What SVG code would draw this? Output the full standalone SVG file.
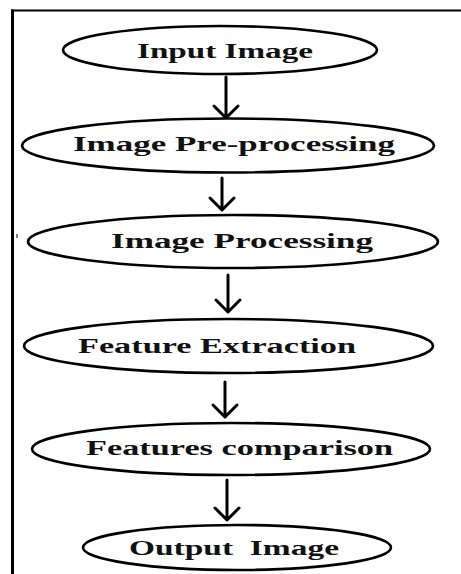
<svg xmlns="http://www.w3.org/2000/svg" width="461" height="574" viewBox="0 0 461 574">
  <style>
    .node ellipse { fill: #ffffff; stroke: #000000; stroke-width: 2.6; }
    .node text { font-family: "Liberation Serif", "Times New Roman", serif; font-weight: bold; font-size: 20px; fill: #111111; }
    .edge { fill: none; stroke: #000000; stroke-width: 3; stroke-linecap: round; stroke-linejoin: round; }
    .frame { stroke: #000000; fill: none; }
  </style>
  <rect width="461" height="574" fill="#ffffff"/>

  <!-- page frame -->
  <g id="frame">
    <line class="frame" x1="11" y1="10.5" x2="461" y2="10.5" stroke-width="2"/>
    <line class="frame" x1="12.5" y1="9.5" x2="12.5" y2="574" stroke-width="3"/>
    <line class="frame" x1="17" y1="234" x2="17" y2="238" stroke-width="1"/>
  </g>

  <!-- connectors -->
  <g id="connectors">
    <path class="edge" d="M226 77 V117 M214 106 L226 118 L238 106"/>
    <path class="edge" d="M222 178 V209 M210 198 L222 210 L234 198"/>
    <path class="edge" d="M228 275 V311 M216 300 L228 312 L240 300"/>
    <path class="edge" d="M225 382 V416 M213 405 L225 417 L237 405"/>
    <path class="edge" d="M227 480 V519 M215 508 L227 520 L239 508"/>
  </g>

  <g id="input-image" class="node">
    <ellipse cx="220" cy="50" rx="157" ry="24"/>
    <text x="137" y="58" textLength="176" lengthAdjust="spacingAndGlyphs">Input Image</text>
  </g>

  <g id="image-pre-processing" class="node">
    <ellipse cx="228" cy="145.5" rx="206" ry="27"/>
    <text x="73" y="151" textLength="322" lengthAdjust="spacingAndGlyphs">Image Pre-processing</text>
  </g>

  <g id="image-processing" class="node">
    <ellipse cx="233" cy="241.5" rx="205" ry="26.5"/>
    <text x="111" y="248" textLength="262" lengthAdjust="spacingAndGlyphs">Image Processing</text>
  </g>

  <g id="feature-extraction" class="node">
    <ellipse cx="228.5" cy="346" rx="204.5" ry="27"/>
    <text x="78" y="353" textLength="278" lengthAdjust="spacingAndGlyphs">Feature Extraction</text>
  </g>

  <g id="features-comparison" class="node">
    <ellipse cx="231" cy="449" rx="199" ry="26"/>
    <text x="86" y="455" textLength="307" lengthAdjust="spacingAndGlyphs">Features comparison</text>
  </g>

  <g id="output-image" class="node">
    <ellipse cx="237" cy="547.5" rx="154" ry="22.5"/>
    <text x="129" y="555" textLength="210" lengthAdjust="spacingAndGlyphs" xml:space="preserve">Output  Image</text>
  </g>
</svg>
